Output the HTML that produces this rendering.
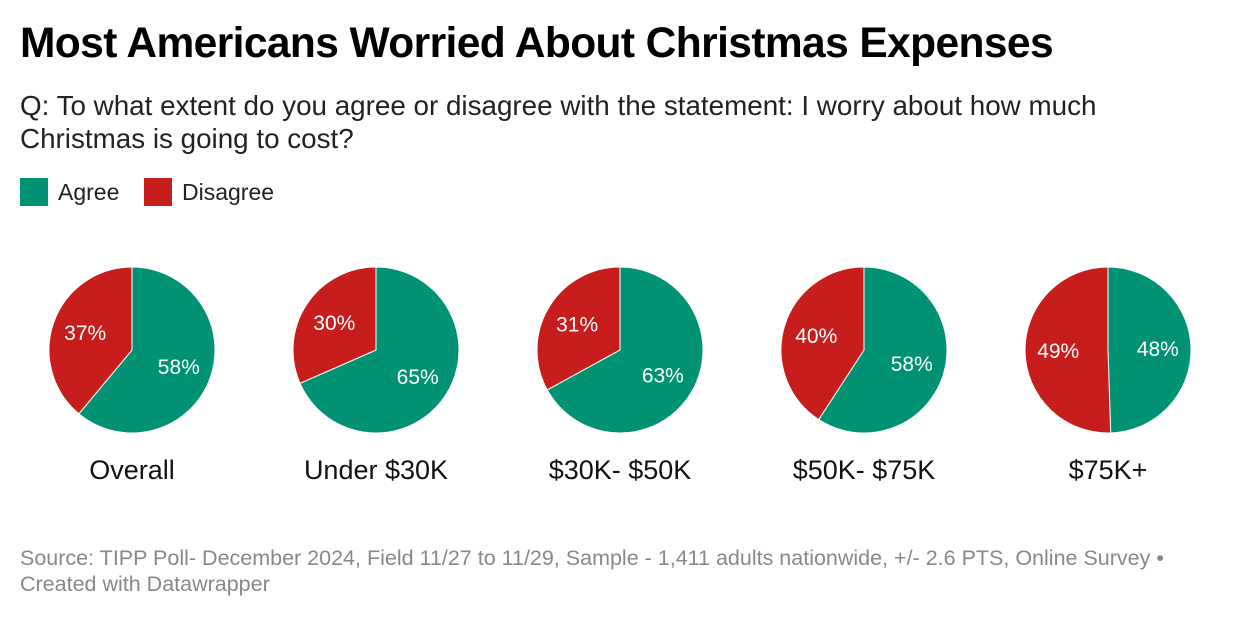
<!DOCTYPE html>
<html><head><meta charset="utf-8"><style>
body{margin:0;width:1240px;height:618px;background:#fff;font-family:"Liberation Sans",sans-serif;position:relative;overflow:hidden}
.t{position:absolute;left:20px;top:20px;font-size:42.5px;font-weight:bold;color:#000;letter-spacing:-0.6px;white-space:nowrap}
.s{position:absolute;left:20px;top:89px;font-size:27.8px;line-height:33px;color:#222;width:1150px}
.lg{position:absolute;top:178px;height:28px;font-size:23px;color:#222;line-height:28px}
.sq{position:absolute;top:178px;width:28px;height:28px}
.f{position:absolute;left:20px;top:545px;font-size:21.5px;line-height:26px;color:#888;width:1210px}
</style></head><body>
<div class="t">Most Americans Worried About Christmas Expenses</div>
<div class="s">Q: To what extent do you agree or disagree with the statement: I worry about how much<br>Christmas is going to cost?</div>
<div class="sq" style="left:20px;background:#019273"></div>
<div class="lg" style="left:58px">Agree</div>
<div class="sq" style="left:144px;background:#c71e1d"></div>
<div class="lg" style="left:182px">Disagree</div>
<svg id="c" width="1240" height="520" style="position:absolute;left:0;top:0"></svg>
<div class="f">Source: TIPP Poll- December 2024, Field 11/27 to 11/29, Sample - 1,411 adults nationwide, +/- 2.6 PTS, Online Survey •<br>Created with Datawrapper</div>
<script>
const categories=["Overall","Under $30K","$30K- $50K","$50K- $75K","$75K+"];
const agree=[58,65,63,58,48];
const disagree=[37,30,31,40,49];
const svg=document.getElementById('c');
const NS='http://www.w3.org/2000/svg';
const R=83,CY=350;
function pt(cx,a,r){return [cx+r*Math.sin(a),CY-r*Math.cos(a)];}
function arc(cx,a0,a1){const p0=pt(cx,a0,R),p1=pt(cx,a1,R);const lg=(a1-a0)>Math.PI?1:0;
return `M${cx},${CY}L${p0[0]},${p0[1]}A${R},${R} 0 ${lg} 1 ${p1[0]},${p1[1]}Z`;}
categories.forEach((c,i)=>{
 const cx=132+244*i;const tot=agree[i]+disagree[i];
 const aA=2*Math.PI*agree[i]/tot;
 const segs=[[0,aA,'#019273',agree[i],'agree'],[aA,2*Math.PI,'#c71e1d',disagree[i],'disagree']];
 segs.forEach(s=>{
  const p=document.createElementNS(NS,'path');
  p.setAttribute('d',arc(cx,s[0],s[1]));p.setAttribute('fill',s[2]);
  p.setAttribute('stroke','#fff');p.setAttribute('stroke-width','1');
  
  
  svg.appendChild(p);
  const m=(s[0]+s[1])/2;const q=pt(cx,m,R*0.6);
  const t=document.createElementNS(NS,'text');
  t.setAttribute('x',q[0]);t.setAttribute('y',q[1]+7);t.setAttribute('text-anchor','middle');
  t.setAttribute('fill','#fff');t.setAttribute('font-size','21');t.setAttribute('font-family','Liberation Sans, sans-serif');
  t.textContent=s[3]+'%';
  
  
  svg.appendChild(t);
 });
 const l=document.createElementNS(NS,'text');
 l.setAttribute('x',cx);l.setAttribute('y',479);l.setAttribute('text-anchor','middle');
 l.setAttribute('fill','#111');l.setAttribute('font-size','27');l.setAttribute('font-family','Liberation Sans, sans-serif');
 l.textContent=c;
 
 
 svg.appendChild(l);
});
</script>
</body></html>
